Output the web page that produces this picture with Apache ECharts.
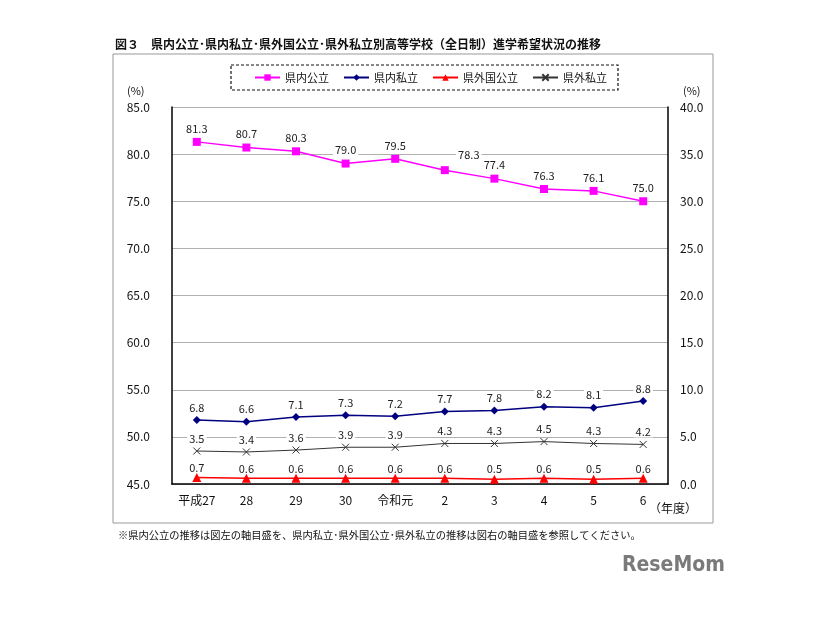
<!DOCTYPE html>
<html><head><meta charset="utf-8">
<script src="https://cdn.jsdelivr.net/npm/echarts@6/dist/echarts.min.js"></script>
<style>html,body{margin:0;padding:0;background:#fff}#c{width:826px;height:620px}</style>
</head><body><div id="c"></div>
<script>
const categories = ['平成27','28','29','30','令和元','2','3','4','5','6'];
const kennaiKoritsu = [81.3,80.7,80.3,79.0,79.5,78.3,77.4,76.3,76.1,75.0];
const kennaiShiritsu = [6.8,6.6,7.1,7.3,7.2,7.7,7.8,8.2,8.1,8.8];
const kengaiKokoritsu = [0.7,0.6,0.6,0.6,0.6,0.6,0.5,0.6,0.5,0.6];
const kengaiShiritsu = [3.5,3.4,3.6,3.9,3.9,4.3,4.3,4.5,4.3,4.2];
const seriesNames = ['県内公立','県内私立','県外国公立','県外私立'];

const FONT = '"Noto Sans CJK JP", "Noto Sans", sans-serif';
const chart = echarts.init(document.getElementById('c'));
function lbl(dist){
  return {show:true, position:'top', distance:dist, fontSize:11, color:'#222', fontFamily:FONT,
    backgroundColor:'#fff', padding:[0,2], formatter: p => p.value.toFixed(1)};
}
const crossPath = 'path://M0,0L10,10M10,0L0,10';

function withOffsets(arr, offsets){
  return arr.map((v,i)=> offsets[i] ? {value:v, label:{offset:offsets[i]}} : v);
}

chart.setOption({
  animation:false,
  textStyle:{fontFamily:FONT},
  grid:{left:172, right:158, top:107, bottom:136},
  legend:{
    top:67, left:249, itemGap:14, itemWidth:25, itemHeight:8,
    textStyle:{fontSize:11, color:'#111', fontFamily:FONT},
    data:seriesNames
  },
  xAxis:{
    type:'category', data:categories, boundaryGap:true,
    axisLine:{lineStyle:{color:'#000', width:1.5}},
    axisTick:{inside:true, length:4, lineStyle:{color:'#000'}},
    axisLabel:{color:'#111', fontSize:12, margin:10, fontFamily:FONT}
  },
  yAxis:[
    {type:'value', min:45, max:85, interval:5,
     axisLine:{show:true, lineStyle:{color:'#000', width:1.5}},
     axisTick:{show:false},
     axisLabel:{color:'#111', fontSize:12, margin:22, formatter:v=>v.toFixed(1)},
     splitLine:{lineStyle:{color:'#b0b0b0', width:1}}},
    {type:'value', min:0, max:40, interval:5,
     axisLine:{show:true, lineStyle:{color:'#000', width:1.5}},
     axisTick:{show:false},
     axisLabel:{color:'#111', fontSize:12, margin:12, formatter:v=>v.toFixed(1)},
     splitLine:{show:false}}
  ],
  series:[
    {name:seriesNames[0], type:'line', yAxisIndex:0,
     data:withOffsets(kennaiKoritsu, {5:[24,-2]}),
     symbol:'rect', symbolSize:8, color:'#ff00ff', lineStyle:{width:1.5},
     label:lbl(4)},
    {name:seriesNames[1], type:'line', yAxisIndex:1, data:kennaiShiritsu,
     symbol:'diamond', symbolSize:8, color:'#000080', lineStyle:{width:1.5},
     label:lbl(3)},
    {name:seriesNames[2], type:'line', yAxisIndex:1, data:kengaiKokoritsu,
     symbol:'triangle', symbolSize:9, color:'#ff0000', lineStyle:{width:1.5},
     label:lbl(0)},
    {name:seriesNames[3], type:'line', yAxisIndex:1, data:kengaiShiritsu,
     symbol:crossPath, symbolSize:7, color:'#333333', lineStyle:{width:1},
     itemStyle:{borderColor:'#333333', borderWidth:1},
     label:lbl(3)}
  ],
  graphic:[
    {type:'text', left:115, top:38, style:{text:'図３　県内公立･県内私立･県外国公立･県外私立別高等学校（全日制）進学希望状況の推移', font:'bold 12px '+FONT, fill:'#111'}},
    {type:'rect', shape:{x:113, y:54, width:600, height:469}, style:{fill:'none', stroke:'#999', lineWidth:1}, z:-1},
    {type:'rect', shape:{x:231, y:65, width:387, height:25}, style:{fill:'none', stroke:'#111', lineWidth:1.2, lineDash:[3,2]}},
    {type:'text', left:127, top:85, style:{text:'(%)', font:'11px '+FONT, fill:'#111'}},
    {type:'text', left:683, top:85, style:{text:'(%)', font:'11px '+FONT, fill:'#111'}},
    {type:'text', left:649, top:502, style:{text:'（年度）', font:'12px '+FONT, fill:'#111'}},
    {type:'text', left:118, top:530, style:{text:'※県内公立の推移は図左の軸目盛を、県内私立･県外国公立･県外私立の推移は図右の軸目盛を参照してください。', font:'10.25px '+FONT, fill:'#111'}},
    {type:'text', left:622, top:555, style:{text:'ReseMom', font:'bold 21px "DejaVu Sans Condensed", sans-serif', fill:'#7a7a7a'}}
  ]
});
</script></body></html>
